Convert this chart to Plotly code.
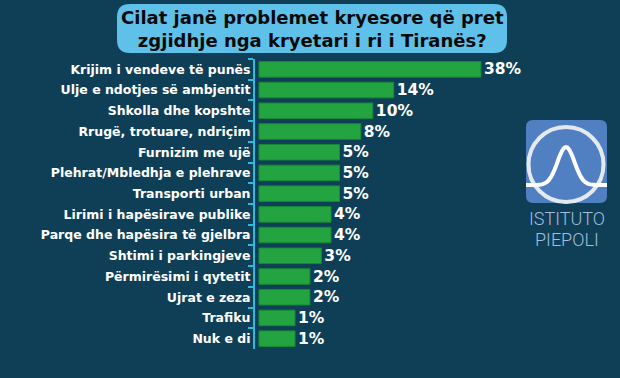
import numpy as np
import plotly.graph_objects as go

categories = [
    "Krijim i vendeve të punës",
    "Ulje e ndotjes së ambjentit",
    "Shkolla dhe kopshte",
    "Rrugë, trotuare, ndriçim",
    "Furnizim me ujë",
    "Plehrat/Mbledhja e plehrave",
    "Transporti urban",
    "Lirimi i hapësirave publike",
    "Parqe dhe hapësira të gjelbra",
    "Shtimi i parkingjeve",
    "Përmirësimi i qytetit",
    "Ujrat e zeza",
    "Trafiku",
    "Nuk e di",
]
values = [38, 14, 10, 8, 5, 5, 5, 4, 4, 3, 2, 2, 1, 1]
value_labels = [f"{v}%" for v in values]
title_lines = ["Cilat janë problemet kryesore që pret", "zgjidhje nga kryetari i ri i Tiranës?"]
logo_lines = ["ISTITUTO", "PIEPOLI"]

W, H = 620, 378
ML, MR, MT, MB = 255, 0, 59, 29
PW, PH = W - ML - MR, H - MT - MB
K = 36.0  # pixels per sqrt-unit (the broadcast graphic uses a compressed scale)
OFF = 4.0  # gap between bracket and bar start, px


def px(x):
    return (x - ML) / PW


def py(y):
    return (H - MB - y) / PH


BG = "#0f3f57"
CYAN = "#2bbbe0"

fig = go.Figure()
fig.add_trace(go.Bar(
    y=categories,
    x=np.sqrt(values),
    orientation="h",
    marker=dict(color="#23a440", line=dict(color="#178a33", width=1)),
    text=value_labels,
    textposition="outside",
    constraintext="none",
    cliponaxis=False,
    textfont=dict(family="DejaVu Sans", size=15.5, color="white", weight="bold"),
    hoverinfo="skip",
))

shapes = []


def rounded_rect(x0, y0, x1, y1, r, fill, line_color=None, lw=0):
    p = (f"M {px(x0 + r)} {py(y0)} L {px(x1 - r)} {py(y0)} Q {px(x1)} {py(y0)} {px(x1)} {py(y0 + r)} "
         f"L {px(x1)} {py(y1 - r)} Q {px(x1)} {py(y1)} {px(x1 - r)} {py(y1)} "
         f"L {px(x0 + r)} {py(y1)} Q {px(x0)} {py(y1)} {px(x0)} {py(y1 - r)} "
         f"L {px(x0)} {py(y0 + r)} Q {px(x0)} {py(y0)} {px(x0 + r)} {py(y0)} Z")
    return dict(type="path", xref="paper", yref="paper", path=p, fillcolor=fill,
                line=dict(color=line_color or fill, width=lw), layer="below")


# title box
shapes.append(rounded_rect(117, 4, 507, 53, 13, "#5fc0ea"))
# logo box
shapes.append(rounded_rect(526, 120, 607, 203, 7, "#5080c2"))
# logo circle
shapes.append(dict(type="circle", xref="paper", yref="paper",
                   x0=px(528.5), x1=px(603.5), y0=py(127), y1=py(202),
                   line=dict(color="#e4e9f0", width=4), layer="above"))
# logo bell curve
bx = np.linspace(526, 607, 60)
by = 185 - 38 * np.exp(-((bx - 566) ** 2) / (2 * 8.5 ** 2))
bp = "M " + " L ".join(f"{px(a)} {py(b)}" for a, b in zip(bx, by))
shapes.append(dict(type="path", xref="paper", yref="paper", path=bp,
                   line=dict(color="white", width=4), layer="above"))

annotations = [
    dict(text="<br>".join(title_lines), xref="paper", yref="paper",
         x=px(312), y=py(29), xanchor="center", yanchor="middle", showarrow=False,
         font=dict(family="DejaVu Sans", size=18, color="#0a0a0a", weight="bold"), align="center"),
    dict(text=logo_lines[0], xref="paper", yref="paper", x=px(567), y=py(218),
         xanchor="center", yanchor="middle", showarrow=False,
         font=dict(family="Roboto", size=18, color="#a3bddb", weight=300)),
    dict(text=logo_lines[1], xref="paper", yref="paper", x=px(567), y=py(239),
         xanchor="center", yanchor="middle", showarrow=False,
         font=dict(family="Roboto", size=18, color="#a3bddb", weight=300)),
]

fig.update_layout(
    width=W, height=H,
    margin=dict(l=ML, r=MR, t=MT, b=MB, pad=0),
    paper_bgcolor=BG, plot_bgcolor=BG,
    showlegend=False,
    bargap=0.25,
    shapes=shapes,
    annotations=annotations,
    xaxis=dict(range=[-OFF / K, (PW - OFF) / K], visible=False, fixedrange=True),
    yaxis=dict(autorange=False, range=[len(categories) - 0.5, -0.5], type="category",
               fixedrange=True,
               showline=True, linecolor=CYAN, linewidth=2,
               ticks="outside", tickson="boundaries", ticklen=5, tickcolor=CYAN, tickwidth=2,
               showgrid=False, zeroline=False,
               tickfont=dict(family="DejaVu Sans", size=12.5, color="white", weight="bold")),
)

fig.write_html("out.html", config={"displayModeBar": False, "staticPlot": True},
               post_script="document.body.style.margin='0';document.body.style.background='%s';" % BG)
